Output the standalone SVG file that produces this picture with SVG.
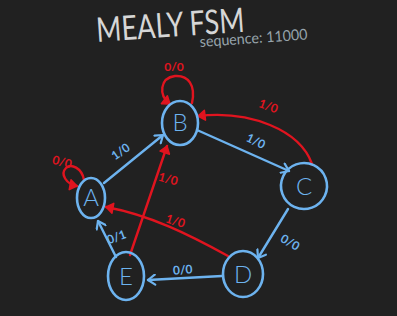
<svg xmlns="http://www.w3.org/2000/svg" width="397" height="316" viewBox="0 0 397 316">
  <defs>
    <style>
      .bg { fill: #212121; }
      .node { fill: none; stroke: #6db3ef; stroke-width: 2.6; }
      .nlabel { fill: #6db3ef; font-family: "Lato", "Liberation Sans", sans-serif; font-weight: 300; font-size: 24px; text-anchor: middle; }
      .blue { fill: none; stroke: #6db3ef; stroke-width: 2.4; stroke-linecap: round; }
      .red { fill: none; stroke: #e0141f; stroke-width: 2.4; stroke-linecap: round; }
      .lb { fill: #6db3ef; font-family: "Lato", "Liberation Sans", sans-serif; font-size: 12px; font-weight: 700; text-anchor: middle; }
      .lr { fill: #e0141f; font-family: "Lato", "Liberation Sans", sans-serif; font-size: 12px; font-weight: 700; text-anchor: middle; }
      .title { fill: #d6d6d6; font-family: "Lato", "Liberation Sans", sans-serif; font-weight: 400; font-size: 34px; }
      .sub { fill: #97a4ac; font-family: "Lato", "Liberation Sans", sans-serif; font-size: 15px; }
    </style>
    <marker id="ab" markerWidth="12" markerHeight="12" refX="9" refY="6" orient="auto" markerUnits="userSpaceOnUse">
      <path d="M2,1 L9,6 L2,11" fill="none" stroke="#6db3ef" stroke-width="2.2" stroke-linecap="round" stroke-linejoin="round"/>
    </marker>
    <marker id="ar" markerWidth="12" markerHeight="12" refX="9" refY="6" orient="auto" markerUnits="userSpaceOnUse">
      <path d="M2,1 L9,6 L2,11 Z" fill="#e0141f" stroke="#e0141f" stroke-width="1.5" stroke-linejoin="round"/>
    </marker>
  </defs>

  <rect class="bg" x="0" y="0" width="397" height="316"/>

  <!-- heading: narrowed horizontally, tilted slightly upward -->
  <text class="title" transform="translate(97 42) rotate(-4) scale(0.8 1)">MEALY FSM</text>
  <text class="sub" x="200" y="47" textLength="108" lengthAdjust="spacingAndGlyphs" transform="rotate(-4 200 47)">sequence: 11000</text>

  <!-- transitions -->
  <g id="connectors">
    <!-- A -> B -->
    <path class="blue" d="M104,183 L163,135" marker-end="url(#ab)"/>
    <text class="lb" x="123" y="155" transform="rotate(-35 123 155)">1/0</text>
    <!-- B -> C -->
    <path class="blue" d="M197,130 L289,171" marker-end="url(#ab)"/>
    <text class="lb" x="254" y="145" transform="rotate(25 254 145)">1/0</text>
    <!-- C -> D -->
    <path class="blue" d="M288,209 L258,258" marker-end="url(#ab)"/>
    <text class="lb" x="288" y="246" transform="rotate(30 288 246)">0/0</text>
    <!-- D -> E -->
    <path class="blue" d="M222,276 L148,280" marker-end="url(#ab)"/>
    <text class="lb" x="183" y="274" transform="rotate(-4 183 274)">0/0</text>
    <!-- E -> A -->
    <path class="blue" d="M116,257 L98,221" marker-end="url(#ab)"/>
    <text class="lb" x="118" y="241" transform="rotate(-20 118 241)">0/1</text>

    <!-- C -> B -->
    <path class="red" d="M312,164 C300,130 250,110 198,116" marker-end="url(#ar)"/>
    <text class="lr" x="267" y="110" transform="rotate(20 267 110)">1/0</text>
    <!-- D -> A -->
    <path class="red" d="M228,256 C190,235 150,215 106,207" marker-end="url(#ar)"/>
    <text class="lr" x="174" y="225" transform="rotate(18 174 225)">1/0</text>
    <!-- E -> B -->
    <path class="red" d="M130,255 L167,146" marker-end="url(#ar)"/>
    <text class="lr" x="167" y="183" transform="rotate(15 167 183)">1/0</text>
    <!-- A self loop -->
    <path class="red" d="M84,180 C82,168 71,163 66,168 C60,174 66,184 77,186" marker-end="url(#ar)"/>
    <text class="lr" x="61" y="166" transform="rotate(15 61 166)">0/0</text>
    <!-- B self loop -->
    <path class="red" d="M192,103 C196,85 188,75 175,76 C160,78 158,95 170,104" marker-end="url(#ar)"/>
    <text class="lr" x="174" y="71">0/0</text>
  </g>

  <!-- states -->
  <g id="node-A">
    <ellipse class="node" cx="91" cy="198" rx="14" ry="20"/>
    <text class="nlabel" x="91" y="206">A</text>
  </g>
  <g id="node-B">
    <ellipse class="node" cx="180" cy="123" rx="18" ry="22"/>
    <text class="nlabel" x="180" y="131">B</text>
  </g>
  <g id="node-C">
    <ellipse class="node" cx="304" cy="186" rx="23" ry="23" transform="rotate(-20 304 186)"/>
    <text class="nlabel" x="304" y="195">C</text>
  </g>
  <g id="node-D">
    <ellipse class="node" cx="243" cy="274" rx="20" ry="23"/>
    <text class="nlabel" x="243" y="283">D</text>
  </g>
  <g id="node-E">
    <ellipse class="node" cx="126" cy="276" rx="18" ry="24"/>
    <text class="nlabel" x="126" y="285">E</text>
  </g>
</svg>
